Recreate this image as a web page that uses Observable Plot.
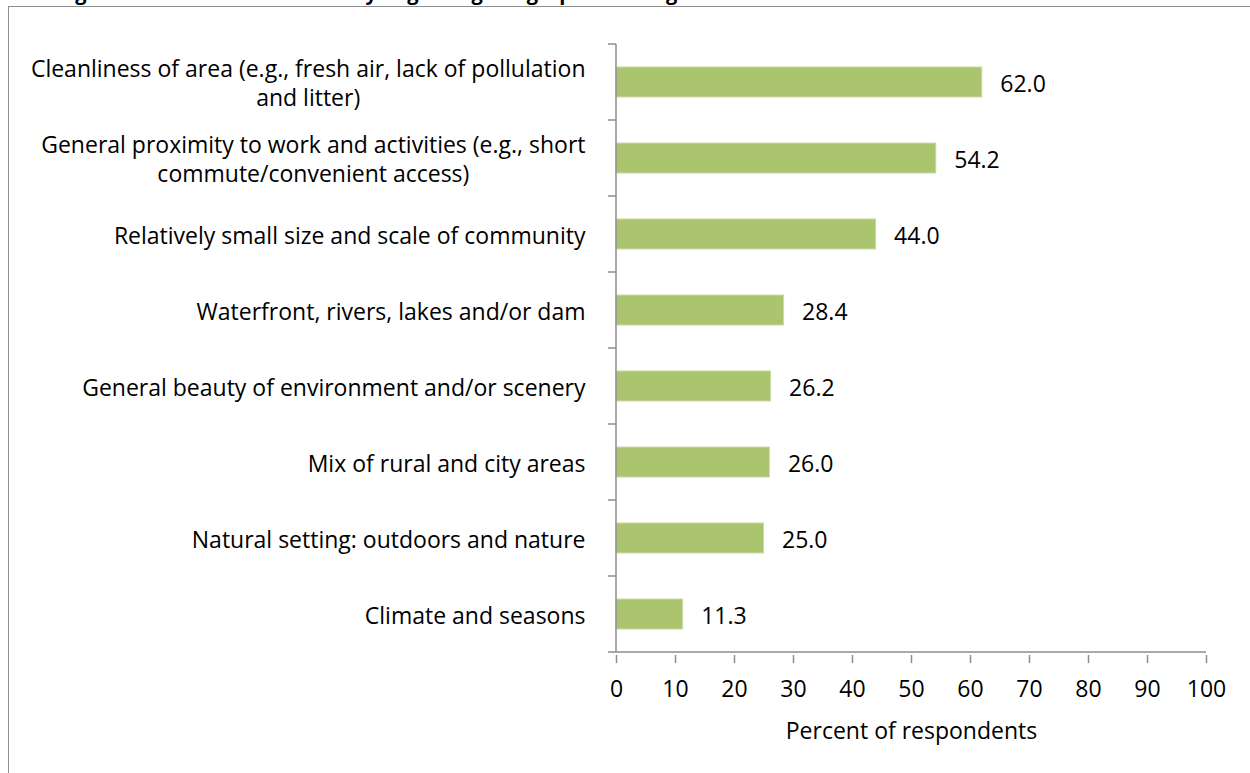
<!DOCTYPE html>
<html>
<head>
<meta charset="utf-8">
<script src="https://cdn.jsdelivr.net/npm/d3@7"></script>
<script src="https://cdn.jsdelivr.net/npm/@observablehq/plot@0.6"></script>
<style>
  html, body { margin: 0; padding: 0; background: #fff; overflow: hidden; }
  #wrap { position: relative; width: 1250px; height: 773px; overflow: hidden; background: #fff; }
  #title { position: absolute; left: 22px; top: -19px; font: bold 20px "Open Sans", sans-serif; line-height: 1.2; white-space: nowrap; color: #000; }
  #frame { position: absolute; left: 8px; top: 6px; width: 1400px; height: 1000px; border: 1.5px solid #8e8e8e; box-sizing: border-box; }
  #chart { position: absolute; left: 0; top: 0; }
</style>
</head>
<body>
<div id="wrap">
  <div id="title">Ratings of Attributes of Community Regarding Geographic Setting</div>
  <div id="frame"></div>
  <div id="chart"></div>
</div>
<script>
const categories = [
  "Cleanliness of area (e.g., fresh air, lack of pollulation\nand litter)",
  "General proximity to work and activities (e.g., short\ncommute/convenient access)",
  "Relatively small size and scale of community",
  "Waterfront, rivers, lakes and/or dam",
  "General beauty of environment and/or scenery",
  "Mix of rural and city areas",
  "Natural setting: outdoors and nature",
  "Climate and seasons"
];
const values = [62.0, 54.2, 44.0, 28.4, 26.2, 26.0, 25.0, 11.3];
const xTicks = [0, 10, 20, 30, 40, 50, 60, 70, 80, 90, 100];
const axisTitle = "Percent of respondents";

const data = categories.map((c, i) => ({category: c, value: values[i]}));
const axisColor = "#8c8c8c";
const fontSize = 23;

function axesFrame() {
  return (index, scales, values, dimensions, context) => {
    const x = scales.x, y = scales.y;
    const ys = categories.map(c => y(c));
    const step = ys[1] - ys[0];
    let bw = typeof y.bandwidth === "function" ? y.bandwidth() : y.bandwidth;
    if (bw == null || isNaN(bw)) bw = step * 0.4;
    const bounds = categories.map((c, i) => ys[i] + bw / 2 - step / 2);
    bounds.push(ys[ys.length - 1] + bw / 2 + step / 2);
    const x0 = x(0), x1 = x(xTicks[xTicks.length - 1]);
    const g = d3.create("svg:g").attr("stroke", axisColor).attr("stroke-width", 1.5).attr("fill", "none");
    g.selectAll("line.b").data(bounds).join("line")
      .attr("x1", x0 - 8).attr("x2", x0).attr("y1", d => d).attr("y2", d => d);
    g.append("line").attr("x1", x0).attr("x2", x0).attr("y1", bounds[0]).attr("y2", bounds[bounds.length - 1]);
    g.append("line").attr("x1", x0).attr("x2", x1).attr("y1", bounds[bounds.length - 1]).attr("y2", bounds[bounds.length - 1]);
    return g.node();
  };
}

const chart = Plot.plot({
  width: 1250,
  height: 773,
  marginLeft: 616,
  marginRight: 44,
  marginTop: 42,
  marginBottom: 118,
  style: {fontFamily: "'Open Sans', sans-serif", fontSize: fontSize + "px", color: "#000", background: "transparent", overflow: "visible"},
  x: {domain: [0, 100]},
  y: {domain: categories, paddingInner: 0.6, paddingOuter: 0.3},
  marks: [
    Plot.barX(data, {x: "value", y: "category", fill: "#abc46e", stroke: "#c9dba6", strokeWidth: 1}),
    Plot.text(data, {x: "value", y: "category", text: d => d.value.toFixed(1), textAnchor: "start", dx: 18, dy: 2, fill: "#000", fontSize}),
    axesFrame(),
    Plot.axisX({ticks: xTicks, tickSize: 8, tickPadding: 17, stroke: axisColor, strokeWidth: 1.5, label: null, fill: "#000", fontSize}),
    Plot.axisY({tickSize: 0, tickPadding: 31, label: null, fill: "#000", fontSize, lineHeight: 1.27, textAnchor: "end"}),
    Plot.text([axisTitle], {frameAnchor: "bottom", dy: 83, fill: "#000", fontSize})
  ]
});
document.getElementById("chart").appendChild(chart);

// center the lines of multi-line category labels on each other (as in the source)
d3.select(chart).selectAll("text").each(function() {
  const tspans = this.querySelectorAll("tspan");
  if (tspans.length < 2) return;
  const widths = Array.from(tspans, t => t.getComputedTextLength());
  const maxW = Math.max(...widths);
  this.setAttribute("text-anchor", "middle");
  tspans.forEach(t => t.setAttribute("x", -maxW / 2));
});
</script>
</body>
</html>
